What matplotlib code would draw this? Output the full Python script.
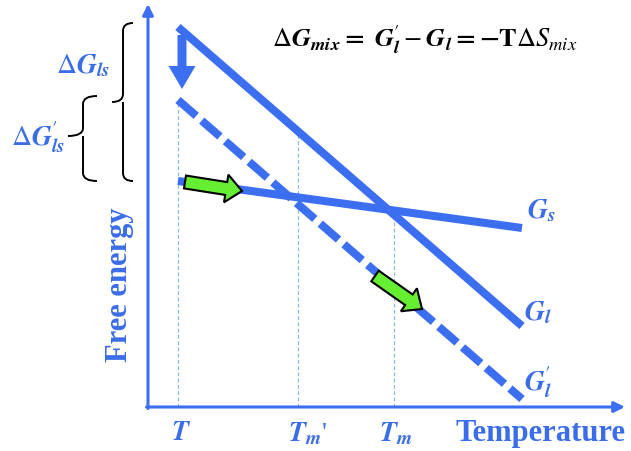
import numpy as np
import matplotlib
matplotlib.use('Agg')
import matplotlib.pyplot as plt
from matplotlib.path import Path
from matplotlib.patches import PathPatch, FancyArrow

plt.rcParams['font.family'] = ['Liberation Serif', 'DejaVu Serif']
plt.rcParams['mathtext.fontset'] = 'stix'

blue = '#3c6ff0'
tblue = '#3a6de8'
green = '#66ee33'

# schematic data (temperature, free energy) in arbitrary units
temp = np.array([30, 374])
G_l = np.array([380, 81])
G_l_mix = np.array([307, 8])
G_s = np.array([226, 179])

T = 30
Tm_prime = 150
Tm = 246

fig = plt.figure(figsize=(6.31, 4.52), dpi=100)
ax = fig.add_axes([0, 0, 1, 1])
ax.set_xlim(-148, 483)
ax.set_ylim(-44, 408)
ax.axis('off')

# axes with arrow heads
ax.annotate('', xy=(477, 0), xytext=(-1.5, 0),
            arrowprops=dict(arrowstyle='-|>', color=blue, lw=2.2,
                            mutation_scale=16, shrinkA=0, shrinkB=0))
ax.annotate('', xy=(0, 403), xytext=(0, -1.5),
            arrowprops=dict(arrowstyle='-|>', color=blue, lw=2.2,
                            mutation_scale=16, shrinkA=0, shrinkB=0))

# guide lines
for t, top in [(T, np.interp(T, temp, G_l_mix)),
               (Tm_prime, np.interp(Tm_prime, temp, G_l)),
               (Tm, np.interp(Tm, temp, G_s))]:
    ax.plot([t, t], [0, top], color='#8fb8dc', lw=0.9, ls=(0, (3, 2)), zorder=1)

# free energy curves
ax.plot(temp, G_l, color=blue, lw=5.8, solid_capstyle='butt', zorder=3)
ax.plot(temp, G_l_mix, color=blue, lw=5.8, ls=(0, (3.0, 0.9)),
        dash_capstyle='butt', zorder=3)
ax.plot(temp, G_s, color=blue, lw=5.8, solid_capstyle='butt', zorder=3)

# arrows
ax.add_patch(FancyArrow(34, 372, 0, -54, width=9, head_width=27, head_length=23,
                        length_includes_head=True, color=blue, lw=0, zorder=4))
ax.add_patch(FancyArrow(37, 225, 57, -9, width=13, head_width=28, head_length=16,
                        length_includes_head=True, fc=green, ec='black', lw=1.5, zorder=5))
ax.add_patch(FancyArrow(227, 131, 47, -33, width=13, head_width=28, head_length=16,
                        length_includes_head=True, fc=green, ec='black', lw=1.5, zorder=5))


def brace(x_end, x_mid, x_tip, y_top, y_bot, y_tip, r=8):
    verts = [(x_end, y_top), (x_mid, y_top), (x_mid, y_top - r),
             (x_mid, y_tip + r), (x_mid, y_tip), (x_tip, y_tip),
             (x_mid, y_tip), (x_mid, y_tip - r),
             (x_mid, y_bot + r), (x_mid, y_bot), (x_end, y_bot)]
    codes = [Path.MOVETO, Path.CURVE3, Path.CURVE3,
             Path.LINETO, Path.CURVE3, Path.CURVE3,
             Path.MOVETO, Path.CURVE3,
             Path.LINETO, Path.CURVE3, Path.CURVE3]
    ax.add_patch(PathPatch(Path(verts, codes), fill=False, ec='black', lw=1.4))


brace(-15, -25, -36, 384, 226, 305)
brace(-51, -65, -80, 311, 226, 271)

# texts
ax.text(-65, 342, r'$\Delta\mathbfit{G}_{\mathbfit{ls}}$', color=tblue,
        fontsize=20, ha='center', va='center')
ax.text(-110, 271, r"$\Delta\mathbfit{G}^{\prime}_{\mathbfit{ls}}$", color=tblue,
        fontsize=20, ha='center', va='center')
ax.text(277, 368, r'$\Delta\mathbfit{G}_{\mathbfit{mix}}\mathbf{=}\ \mathbfit{G}^{\prime}_{\mathbfit{l}}'
        r' - \mathbfit{G}_{\mathbfit{l}}\mathbf{=}\mathbf{-T}\Delta S_{mix}$',
        color='black', fontsize=19, ha='center', va='center')

ax.text(393, 197, r'$\mathbfit{G}_{\mathbfit{s}}$', color=tblue, fontsize=20,
        ha='center', va='center')
ax.text(390, 95, r'$\mathbfit{G}_{\mathbfit{l}}$', color=tblue, fontsize=20,
        ha='center', va='center')
ax.text(390, 26, r'$\mathbfit{G}^{\prime}_{\mathbfit{l}}$', color=tblue, fontsize=20,
        ha='center', va='center')

ax.text(T + 3, -26, r'$\mathbfit{T}$', color=tblue, fontsize=20,
        ha='center', va='center')
ax.text(Tm_prime - 10, -26, r"$\mathbfit{T}_{\mathbfit{m}}$'", color=tblue, fontsize=20,
        ha='left', va='center')
ax.text(Tm + 2, -26, r'$\mathbfit{T}_{\mathbfit{m}}$', color=tblue, fontsize=20,
        ha='center', va='center')

ax.text(393, -26, 'Temperature', color=tblue, fontsize=22, fontweight='bold',
        ha='center', va='center')
ax.text(-29, 123, 'Free energy', color=tblue, fontsize=22, fontweight='bold',
        ha='center', va='center', rotation=90)

fig.savefig('out.png', dpi=100)
